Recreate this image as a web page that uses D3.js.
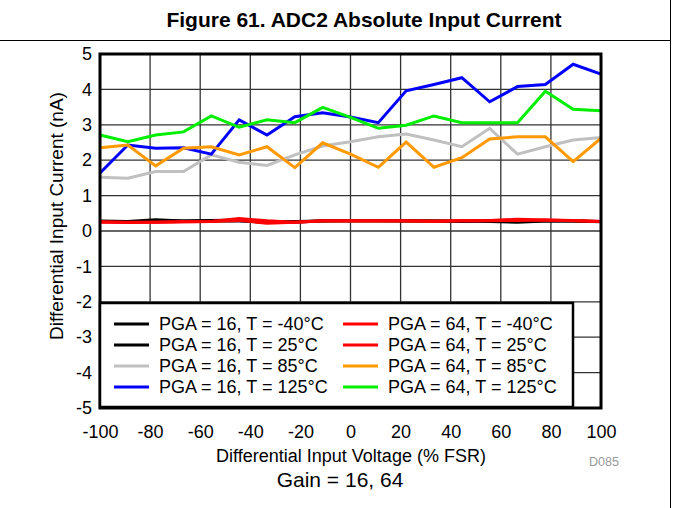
<!DOCTYPE html>
<html>
<head>
<meta charset="utf-8">
<script src="https://cdn.jsdelivr.net/npm/d3@7"></script>
<style>
  html, body { margin: 0; padding: 0; background: #fff; }
  svg { display: block; font-family: "Liberation Sans", Arial, sans-serif; }
</style>
</head>
<body>
<svg id="chart" width="673" height="508"></svg>
<script>
// Differential input voltage sweep (% FSR), 19 measurement points
const voltages = [-100, -88.89, -77.78, -66.67, -55.56, -44.44, -33.33, -22.22, -11.11, 0,
                  11.11, 22.22, 33.33, 44.44, 55.56, 66.67, 77.78, 88.89, 100];

// Absolute input current (nA) per gain / temperature
const pga16_m40 = [0.28, 0.27, 0.32, 0.28, 0.30, 0.31, 0.27, 0.25, 0.29, 0.30, 0.29, 0.29, 0.28, 0.27, 0.30, 0.29, 0.28, 0.28, 0.27];
const pga16_25  = [0.27, 0.26, 0.27, 0.28, 0.29, 0.28, 0.25, 0.27, 0.28, 0.29, 0.29, 0.28, 0.28, 0.28, 0.27, 0.25, 0.28, 0.28, 0.26];
const pga16_85  = [1.52, 1.49, 1.68, 1.68, 2.15, 1.94, 1.85, 2.15, 2.40, 2.52, 2.66, 2.74, 2.57, 2.38, 2.90, 2.17, 2.38, 2.57, 2.64];
const pga16_125 = [1.64, 2.43, 2.34, 2.35, 2.17, 3.14, 2.71, 3.23, 3.34, 3.22, 3.06, 3.96, 4.14, 4.33, 3.65, 4.08, 4.14, 4.71, 4.43];
const pga64_m40 = [0.25, 0.25, 0.25, 0.26, 0.27, 0.35, 0.29, 0.25, 0.29, 0.29, 0.29, 0.29, 0.28, 0.29, 0.30, 0.33, 0.31, 0.29, 0.27];
const pga64_25  = [0.26, 0.24, 0.25, 0.26, 0.27, 0.30, 0.22, 0.25, 0.28, 0.29, 0.28, 0.28, 0.27, 0.29, 0.29, 0.30, 0.31, 0.30, 0.27];
const pga64_85  = [2.35, 2.43, 1.84, 2.34, 2.38, 2.15, 2.38, 1.79, 2.49, 2.17, 1.80, 2.51, 1.80, 2.07, 2.60, 2.66, 2.66, 1.96, 2.62];
const pga64_125 = [2.71, 2.52, 2.71, 2.80, 3.25, 2.93, 3.14, 3.06, 3.49, 3.21, 2.90, 2.99, 3.25, 3.06, 3.06, 3.06, 3.95, 3.44, 3.40];

const seriesNames = [
  "PGA = 16, T = -40°C", "PGA = 16, T = 25°C", "PGA = 16, T = 85°C", "PGA = 16, T = 125°C",
  "PGA = 64, T = -40°C", "PGA = 64, T = 25°C", "PGA = 64, T = 85°C", "PGA = 64, T = 125°C"
];
const seriesValues = [pga16_m40, pga16_25, pga16_85, pga16_125, pga64_m40, pga64_25, pga64_85, pga64_125];
const seriesColors = ["#000000", "#000000", "#c0c0c0", "#0000ff", "#ff0000", "#ff0000", "#ff9900", "#00ee00"];

const xTicks = [-100, -80, -60, -40, -20, 0, 20, 40, 60, 80, 100];
const yTicks = [-5, -4, -3, -2, -1, 0, 1, 2, 3, 4, 5];

const svg = d3.select("#chart");
const FONT = "Liberation Sans, Arial, sans-serif";

// page furniture: rule under the title and right margin rule
svg.append("line").attr("x1", 0).attr("x2", 670.5).attr("y1", 40.5).attr("y2", 40.5)
  .attr("stroke", "#000").attr("stroke-width", 1);
svg.append("line").attr("x1", 670.5).attr("x2", 670.5).attr("y1", 0).attr("y2", 508)
  .attr("stroke", "#000").attr("stroke-width", 1);

svg.append("text").attr("x", 364).attr("y", 27).attr("text-anchor", "middle")
  .attr("font-weight", "bold").attr("font-size", 21)
  .text("Figure 61. ADC2 Absolute Input Current");

const x = d3.scaleLinear().domain([-100, 100]).range([100, 601]);
const y = d3.scaleLinear().domain([-5, 5]).range([408, 54]);

// grid
const grid = svg.append("g");
grid.selectAll("line.v").data(xTicks).join("line").attr("class", "v")
  .attr("x1", d => x(d)).attr("x2", d => x(d)).attr("y1", y(5)).attr("y2", y(-5))
  .attr("stroke", "#333").attr("stroke-width", 1.3);
grid.selectAll("line.h").data(yTicks).join("line").attr("class", "h")
  .attr("x1", x(-100)).attr("x2", x(100)).attr("y1", d => y(d)).attr("y2", d => y(d))
  .attr("stroke", "#333").attr("stroke-width", 1.3);

// axes (labels only; frame drawn separately)
const xAxis = d3.axisBottom(x).tickValues(xTicks).tickSize(0).tickPadding(17)
  .tickFormat(d => String(d));
const gx = svg.append("g").attr("transform", `translate(0,${y(-5)})`).call(xAxis);
gx.select(".domain").remove();
gx.selectAll("text").attr("font-size", 18).attr("fill", "#000").attr("font-family", FONT);

const yAxis = d3.axisLeft(y).tickValues(yTicks).tickSize(0).tickPadding(8)
  .tickFormat(d => String(d));
const gy = svg.append("g").attr("transform", `translate(${x(-100)},0)`).call(yAxis);
gy.select(".domain").remove();
gy.selectAll("text").attr("font-size", 18).attr("fill", "#000").attr("font-family", FONT);

// data lines
const line = d3.line().x((d, i) => x(voltages[i])).y(d => y(d));
svg.append("g").selectAll("path").data(seriesValues).join("path")
  .attr("d", d => line(d))
  .attr("fill", "none")
  .attr("stroke", (d, i) => seriesColors[i])
  .attr("stroke-width", 3)
  .attr("stroke-linejoin", "miter");

// plot frame
svg.append("rect").attr("x", x(-100)).attr("y", y(5))
  .attr("width", x(100) - x(-100)).attr("height", y(-5) - y(5))
  .attr("fill", "none").attr("stroke", "#000").attr("stroke-width", 3);

// legend
const legend = svg.append("g").attr("transform", "translate(100,303)");
legend.append("rect").attr("x", 0).attr("y", 0).attr("width", 473).attr("height", 104)
  .attr("fill", "#fff").attr("stroke", "#000").attr("stroke-width", 2.5);
const items = legend.selectAll("g.item").data(seriesNames).join("g").attr("class", "item")
  .attr("transform", (d, i) => `translate(${i < 4 ? 14 : 243},${21 + (i % 4) * 21})`);
items.append("line").attr("x1", 0).attr("x2", 35).attr("y1", 0).attr("y2", 0)
  .attr("stroke", (d, i) => seriesColors[i]).attr("stroke-width", 3);
items.append("text").attr("x", 45).attr("y", 6).attr("font-size", 18)
  .text(d => d);

// axis titles
svg.append("text").attr("x", 351).attr("y", 462).attr("text-anchor", "middle")
  .attr("font-size", 18).text("Differential Input Voltage (% FSR)");
svg.append("text").attr("transform", "translate(63,216) rotate(-90)")
  .attr("text-anchor", "middle").attr("font-size", 19)
  .text("Differential Input Current (nA)");

svg.append("text").attr("x", 589).attr("y", 466)
  .attr("font-size", 12.5).attr("fill", "#999").text("D085");

svg.append("text").attr("x", 340).attr("y", 487).attr("text-anchor", "middle")
  .attr("font-size", 21).text("Gain = 16, 64");
</script>
</body>
</html>
